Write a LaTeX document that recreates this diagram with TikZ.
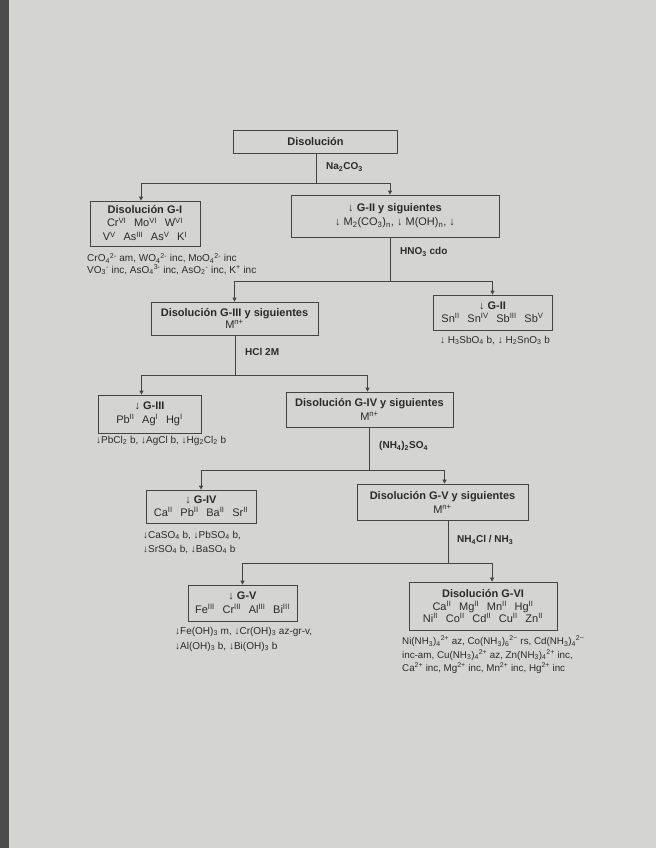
\documentclass[tikz,border=0pt]{standalone}
\usepackage{fontspec}
\setmainfont{Liberation Sans}
\usetikzlibrary{arrows.meta}
\definecolor{paper}{HTML}{D4D4D2}
\definecolor{ink}{HTML}{2A2A2A}
\definecolor{edge}{HTML}{444444}
\newcommand{\su}[1]{\textsuperscript{#1}}
\newcommand{\sub}[1]{\textsubscript{#1}}
\newcommand{\sep}{\hspace{0.7em}}
\begin{document}
\begin{tikzpicture}[x=1pt,y=-1pt,
  box/.style={draw=edge,line width=0.8pt,align=center,inner sep=0pt,text=ink,
    font=\fontsize{11}{14}\selectfont},
  note/.style={anchor=north west,align=left,inner sep=0pt,text=ink,
    font=\fontsize{10}{14}\selectfont},
  reag/.style={anchor=west,inner sep=0pt,text=ink,font=\fontsize{10}{12}\selectfont\bfseries},
  ln/.style={draw=edge,line width=0.8pt},
  arr/.style={ln,-{Triangle[length=4pt,width=4pt]}}]
\fill[paper] (0,0) rectangle (656,848);
\fill[black!70] (0,0) rectangle (9,848);
\useasboundingbox (0,0) rectangle (656,848);

% boxes
\node[box,minimum width=164,minimum height=23] (dis) at (315.5,141.5) {\textbf{Disolución}};
\node[box,minimum width=110,minimum height=45] (g1) at (145,223.5)
  {\textbf{Disolución G-I}\\[-1pt] Cr\su{VI}\sep Mo\su{VI}\sep W\su{VI}\\ V\su{V}\sep As\su{III}\sep As\su{V}\sep K\su{I}};
\node[box,minimum width=208,minimum height=42] (g2s) at (395,216)
  {\textbf{↓ G-II y siguientes}\\ ↓ M\sub{2}(CO\sub{3})\sub{n}, ↓ M(OH)\sub{n}, ↓};
\node[box,minimum width=167,minimum height=33] (g3s) at (234.5,318.5)
  {\textbf{Disolución G-III y siguientes}\\[-2pt] M\su{n+}};
\node[box,minimum width=119,minimum height=35] (g2) at (492.5,312.5)
  {\textbf{↓ G-II}\\[-1pt] Sn\su{II}\sep Sn\su{IV}\sep Sb\su{III}\sep Sb\su{V}};
\node[box,minimum width=103,minimum height=38] (g3) at (149.5,414)
  {\textbf{↓ G-III}\\ Pb\su{II}\sep Ag\su{I}\sep Hg\su{I}};
\node[box,minimum width=167,minimum height=35] (g4s) at (369.5,409.5)
  {\textbf{Disolución G-IV y siguientes}\\ M\su{n+}};
\node[box,minimum width=110,minimum height=33] (g4) at (201,506.5)
  {\textbf{↓ G-IV}\\[-1pt] Ca\su{II}\sep Pb\su{II}\sep Ba\su{II}\sep Sr\su{II}};
\node[box,minimum width=171,minimum height=36] (g5s) at (442.5,502)
  {\textbf{Disolución G-V y siguientes}\\ M\su{n+}};
\node[box,minimum width=109,minimum height=36] (g5) at (242.5,603)
  {\textbf{↓ G-V}\\ Fe\su{III}\sep Cr\su{III}\sep Al\su{III}\sep Bi\su{III}};
\node[box,minimum width=148,minimum height=48] (g6) at (483,606)
  {\textbf{Disolución G-VI}\\[-1pt] Ca\su{II}\sep Mg\su{II}\sep Mn\su{II}\sep Hg\su{II}\\[-2pt]
   Ni\su{II}\sep Co\su{II}\sep Cd\su{II}\sep Cu\su{II}\sep Zn\su{II}};

% reagents
\node[reag] (r1) at (326,167) {Na\sub{2}CO\sub{3}};
\node[reag] (r2) at (400,252) {HNO\sub{3} cdo};
\node[reag] (r3) at (245,352) {HCl 2M};
\node[reag] (r4) at (379,446) {(NH\sub{4})\sub{2}SO\sub{4}};
\node[reag] (r5) at (457,540) {NH\sub{4}Cl / NH\sub{3}};

% notes
\node[note,font=\fontsize{10}{11.5}\selectfont] (n1) at (87,253)
  {CrO\sub{4}\su{2-} am, WO\sub{4}\su{2-} inc, MoO\sub{4}\su{2-} inc\\
   VO\sub{3}\su{-} inc, AsO\sub{4}\su{3-} inc, AsO\sub{2}\su{-} inc, K\su{+} inc};
\node[note,anchor=north] (n2) at (495,336)
  {↓ H\sub{3}SbO\sub{4} b, ↓ H\sub{2}SnO\sub{3} b};
\node[note] (n3) at (96,436)
  {↓PbCl\sub{2} b, ↓AgCl b, ↓Hg\sub{2}Cl\sub{2} b};
\node[note] (n4) at (143,531)
  {↓CaSO\sub{4} b, ↓PbSO\sub{4} b,\\ ↓SrSO\sub{4} b, ↓BaSO\sub{4} b};
\node[note,font=\fontsize{10}{15}\selectfont] (n5) at (175,627)
  {↓Fe(OH)\sub{3} m, ↓Cr(OH)\sub{3} az-gr-v,\\ ↓Al(OH)\sub{3} b, ↓Bi(OH)\sub{3} b};
\node[note,font=\fontsize{9.8}{13.5}\selectfont] (n6) at (402,636)
  {Ni(NH\sub{3})\sub{4}\su{2+} az, Co(NH\sub{3})\sub{6}\su{2−} rs, Cd(NH\sub{3})\sub{4}\su{2−}\\
   inc-am, Cu(NH\sub{3})\sub{4}\su{2+} az, Zn(NH\sub{3})\sub{4}\su{2+} inc,\\
   Ca\su{2+} inc, Mg\su{2+} inc, Mn\su{2+} inc, Hg\su{2+} inc};

% connectors
\coordinate (j1) at (316,183);
\draw[ln] (dis.south -| j1) -- (j1);
\draw[arr] (j1) -| ([xshift=-4]g1.north);
\draw[arr] (j1) -| ([xshift=-5]g2s.north);

\coordinate (j2) at (390,281);
\draw[ln] (g2s.south -| j2) -- (j2);
\draw[arr] (j2) -| (g3s.north);
\draw[arr] (j2) -| (g2.north);

\coordinate (j3) at (235,375);
\draw[ln] (g3s.south -| j3) -- (j3);
\draw[arr] (j3) -| ([xshift=-8]g3.north);
\draw[arr] (j3) -| ([xshift=-2]g4s.north);

\coordinate (j4) at (369,470);
\draw[ln] (g4s.south -| j4) -- (j4);
\draw[arr] (j4) -| (g4.north);
\draw[arr] (j4) -| ([xshift=2]g5s.north);

\coordinate (j5) at (448,563);
\draw[ln] (g5s.south -| j5) -- (j5);
\draw[arr] (j5) -| (g5.north);
\draw[arr] (j5) -| ([xshift=9]g6.north);
\end{tikzpicture}
\end{document}
